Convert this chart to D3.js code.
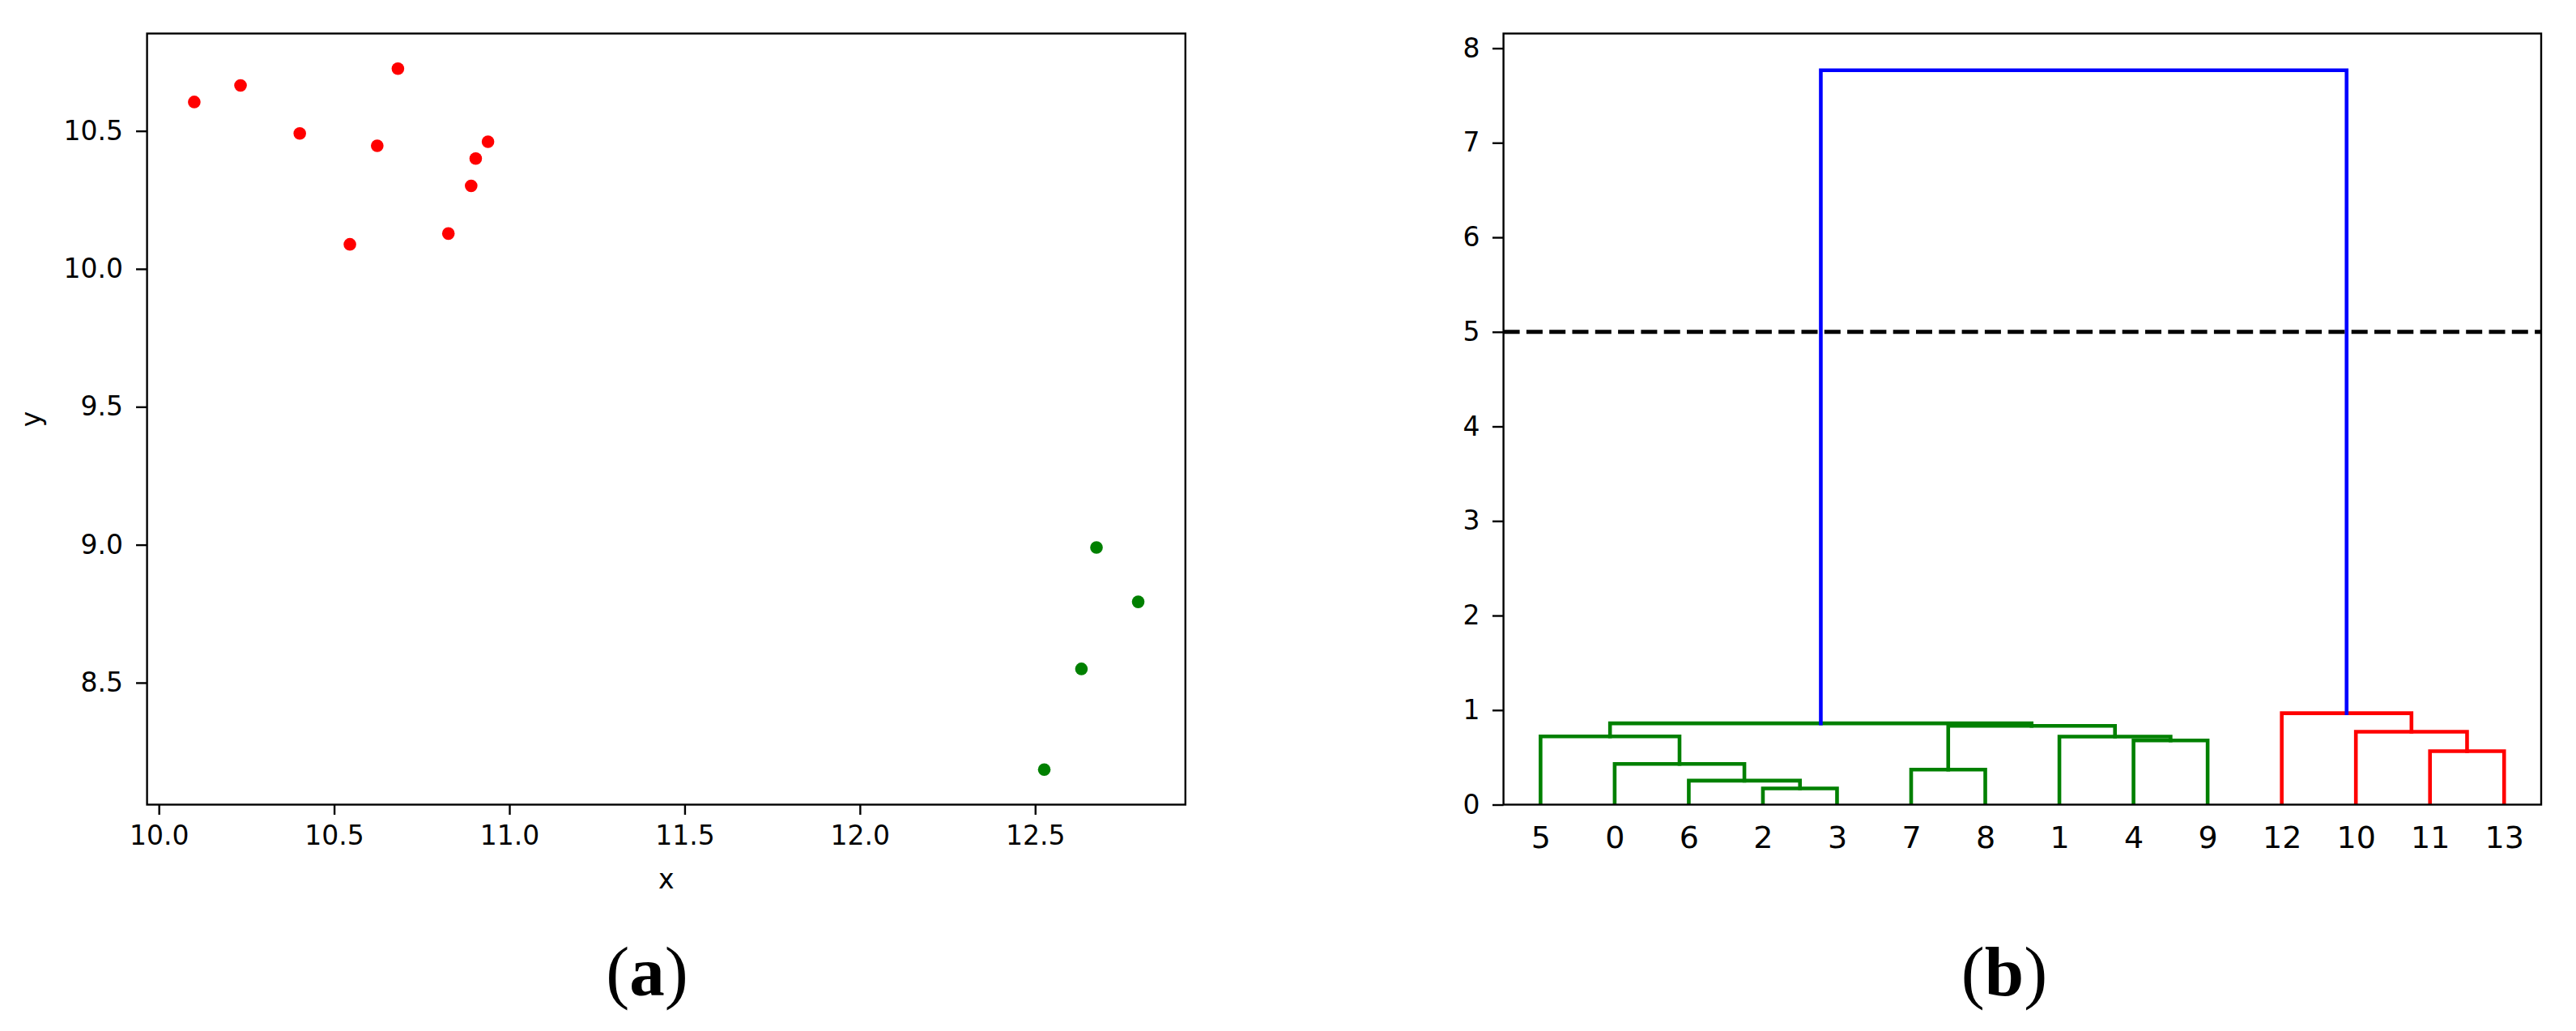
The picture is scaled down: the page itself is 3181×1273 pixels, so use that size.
<!DOCTYPE html>
<html><head><meta charset="utf-8">
<script src="https://cdn.jsdelivr.net/npm/d3@7"></script>
<style>body{margin:0;background:#fff}</style>
</head><body>
<svg id="chart" width="3181" height="1273" xmlns="http://www.w3.org/2000/svg"></svg>
<script>
// ---------- data: panel (a) scatter ----------
const redX   = [10.101, 10.233, 10.682, 10.402, 10.623, 10.939, 10.904, 10.891, 10.545, 10.826];
const redY   = [10.605, 10.665, 10.726, 10.491, 10.446, 10.461, 10.400, 10.301, 10.089, 10.128];
const greenX = [12.675, 12.794, 12.632, 12.526];
const greenY = [8.990, 8.793, 8.550, 8.185];
const xTicksA = [10.0, 10.5, 11.0, 11.5, 12.0, 12.5];
const yTicksA = [8.5, 9.0, 9.5, 10.0, 10.5];

// ---------- data: panel (b) dendrogram ----------
const leafOrder = [5, 0, 6, 2, 3, 7, 8, 1, 4, 9, 12, 10, 11, 13];
const linkA = [2, 6, 7, 0, 11, 4, 1, 5, 10, 16, 21, 12, 24];
const linkB = [3, 14, 8, 15, 13, 9, 19, 17, 18, 20, 23, 22, 25];
const linkH = [0.171, 0.254, 0.370, 0.431, 0.565, 0.679, 0.719, 0.722, 0.771, 0.833, 0.860, 0.967, 7.767];
const yTicksB = [0, 1, 2, 3, 4, 5, 6, 7, 8];
const cutHeight = 5;
const palette = ["#008000", "#ff0000"];
const aboveColor = "#0000ff";

const FONT = "'DejaVu Sans', sans-serif";
const svg = d3.select("#chart");
svg.append("rect").attr("width", 3181).attr("height", 1273).attr("fill", "#fff");

function styleAxis(g, size) {
  g.select(".domain").remove();
  g.selectAll(".tick line").attr("stroke", "#000").attr("stroke-width", 2.4);
  g.selectAll(".tick text").attr("fill", "#000").style("font-family", FONT).style("font-size", size + "px");
}

// ================= Panel (a) =================
const A = {left: 181.6, right: 1463.8, top: 41.4, bottom: 993.5};
function pad(ext) { const r = ext[1] - ext[0]; return [ext[0] - 0.05 * r, ext[1] + 0.05 * r]; }
const xA = d3.scaleLinear().domain(pad(d3.extent(redX.concat(greenX)))).range([A.left, A.right]);
const yA = d3.scaleLinear().domain(pad(d3.extent(redY.concat(greenY)))).range([A.bottom, A.top]);

const gA = svg.append("g");
const dotsR = 7.8;
gA.append("g").selectAll("circle").data(redX.map((x, i) => [x, redY[i]])).join("circle")
  .attr("cx", d => xA(d[0])).attr("cy", d => yA(d[1])).attr("r", dotsR).attr("fill", "#ff0000");
gA.append("g").selectAll("circle").data(greenX.map((x, i) => [x, greenY[i]])).join("circle")
  .attr("cx", d => xA(d[0])).attr("cy", d => yA(d[1])).attr("r", dotsR).attr("fill", "#008000");

gA.append("g").attr("transform", `translate(0,${A.bottom})`)
  .call(d3.axisBottom(xA).tickValues(xTicksA).tickFormat(d3.format(".1f")).tickSize(12.5).tickPadding(14))
  .call(g => styleAxis(g, 33));
gA.append("g").attr("transform", `translate(${A.left},0)`)
  .call(d3.axisLeft(yA).tickValues(yTicksA).tickFormat(d3.format(".1f")).tickSize(13.6).tickPadding(16))
  .call(g => styleAxis(g, 33));
gA.append("rect").attr("x", A.left).attr("y", A.top).attr("width", A.right - A.left).attr("height", A.bottom - A.top)
  .attr("fill", "none").attr("stroke", "#000").attr("stroke-width", 2.4);
gA.append("text").attr("x", (A.left + A.right) / 2).attr("y", 1097).attr("text-anchor", "middle")
  .style("font-family", FONT).style("font-size", "33px").text("x");
gA.append("text").attr("transform", `translate(50,${(A.top + A.bottom) / 2}) rotate(-90)`).attr("text-anchor", "middle")
  .style("font-family", FONT).style("font-size", "33px").text("y");

// ================= Panel (b) =================
const B = {left: 1856.6, right: 3138, top: 41.4, bottom: 993.5};
const n = leafOrder.length;
const maxH = d3.max(linkH);
const xB = d3.scaleLinear().domain([0, 10 * n]).range([B.left, B.right]);
const yB = d3.scaleLinear().domain([0, maxH * 1.05]).range([B.bottom, B.top]);

const pos = new Map();
leafOrder.forEach((leaf, i) => pos.set(leaf, {x: 10 * i + 5, h: 0}));
linkA.forEach((a, k) => {
  const pa = pos.get(a), pb = pos.get(linkB[k]);
  pos.set(n + k, {x: (pa.x + pb.x) / 2, h: linkH[k]});
});
const threshold = 0.7 * maxH;
const colorOf = new Map();
let ci = 0;
function assign(id, c) {
  if (id < n) return;
  const k = id - n, h = linkH[k];
  let cc = c;
  if (h < threshold && cc == null) cc = palette[ci++ % palette.length];
  colorOf.set(id, h < threshold ? cc : aboveColor);
  assign(linkA[k], h < threshold ? cc : null);
  assign(linkB[k], h < threshold ? cc : null);
}
assign(n + linkA.length - 1, null);

const gB = svg.append("g");
svg.append("defs").append("clipPath").attr("id", "clipB").append("rect")
  .attr("x", B.left).attr("y", B.top).attr("width", B.right - B.left).attr("height", B.bottom - B.top);

const links = linkA.map((a, k) => ({a: pos.get(a), b: pos.get(linkB[k]), h: linkH[k], color: colorOf.get(n + k)}));
gB.append("g").attr("clip-path", "url(#clipB)").selectAll("path").data(links).join("path")
  .attr("d", d => `M${xB(d.a.x)},${yB(d.a.h)}V${yB(d.h)}H${xB(d.b.x)}V${yB(d.b.h)}`)
  .attr("fill", "none").attr("stroke", d => d.color).attr("stroke-width", 4.6)
  .attr("stroke-linecap", "square").attr("stroke-linejoin", "miter");

gB.append("line").attr("x1", B.left).attr("x2", B.right).attr("y1", yB(cutHeight)).attr("y2", yB(cutHeight))
  .attr("stroke", "#000").attr("stroke-width", 5.2).attr("stroke-dasharray", "20,8.3");

gB.append("g").attr("transform", `translate(0,${B.bottom})`)
  .call(d3.axisBottom(xB).tickValues(leafOrder.map((d, i) => 10 * i + 5)).tickFormat((d, i) => leafOrder[i]).tickSize(0).tickPadding(27))
  .call(g => styleAxis(g, 38));
gB.append("g").attr("transform", `translate(${B.left},0)`)
  .call(d3.axisLeft(yB).tickValues(yTicksB).tickFormat(d3.format("d")).tickSize(13.6).tickPadding(15.5))
  .call(g => styleAxis(g, 33));
gB.append("rect").attr("x", B.left).attr("y", B.top).attr("width", B.right - B.left).attr("height", B.bottom - B.top)
  .attr("fill", "none").attr("stroke", "#000").attr("stroke-width", 2.4);

// ================= Captions =================
function caption(cx, letter) {
  const t = svg.append("text").attr("x", cx).attr("y", 1229).attr("text-anchor", "middle")
    .style("font-family", "'Liberation Serif', 'DejaVu Serif', serif").style("font-size", "87px").attr("fill", "#000");
  t.append("tspan").text("(");
  t.append("tspan").attr("font-weight", "bold").text(letter);
  t.append("tspan").text(")");
}
caption(799, "a");
caption(2475, "b");
</script>
</body></html>
